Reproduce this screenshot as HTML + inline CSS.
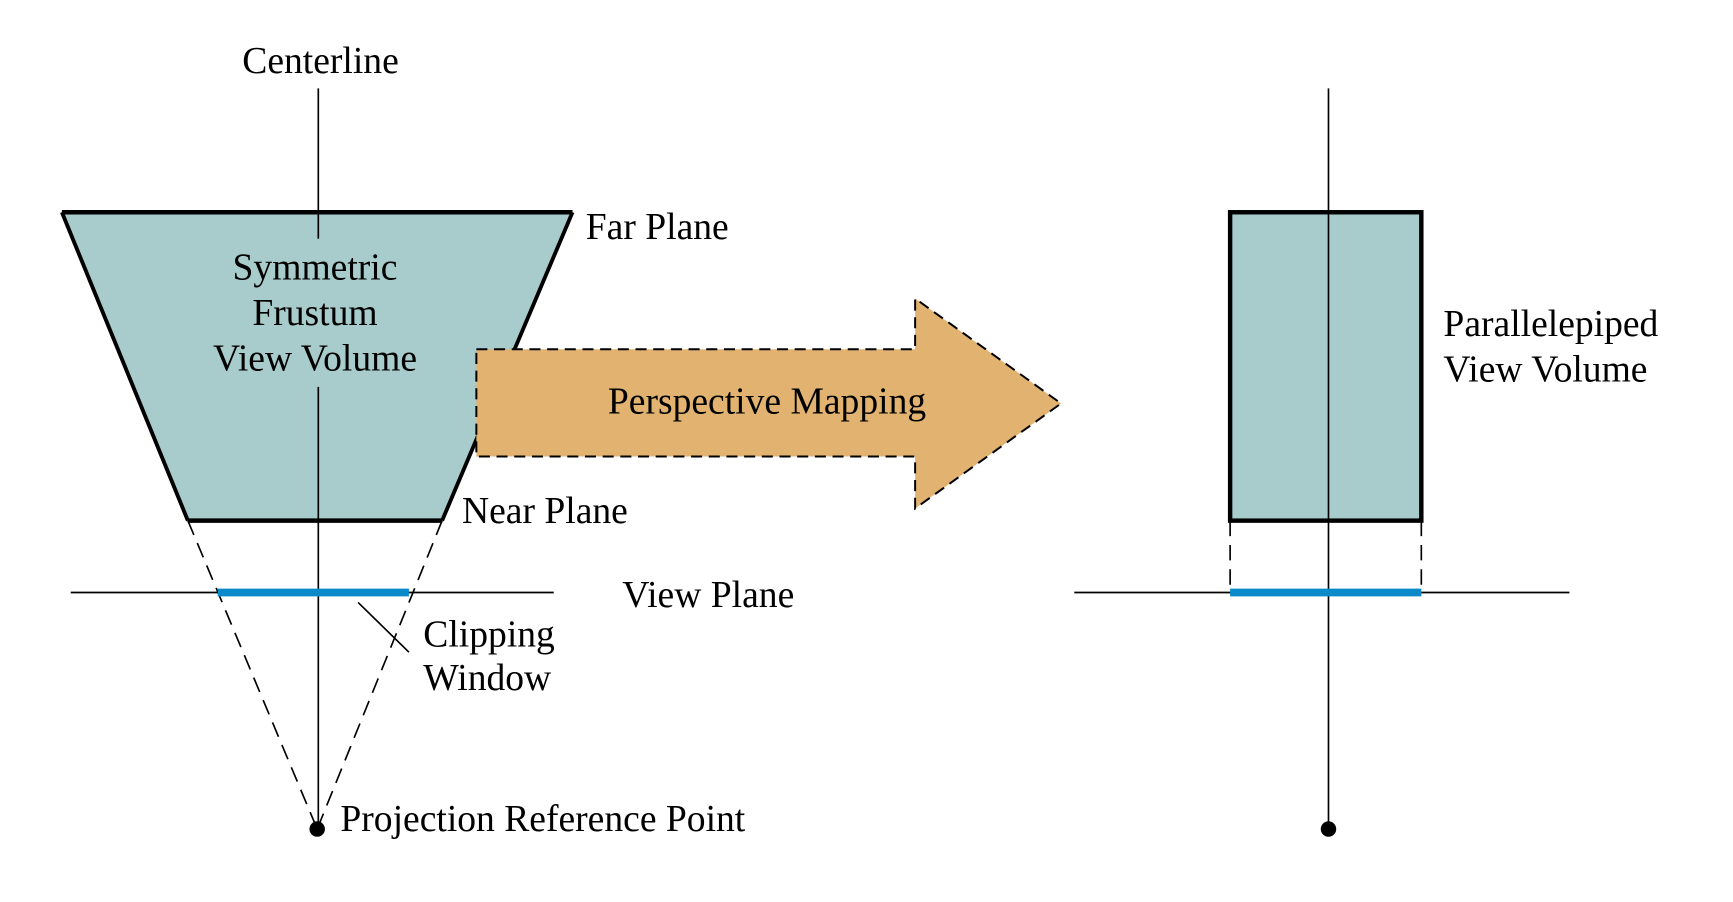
<!DOCTYPE html>
<html><head><style>
html,body{margin:0;padding:0;background:#fff;}
svg{display:block;}
text{font-family:"Liberation Serif",serif;font-size:34px;fill:#000;}
</style></head><body>
<svg width="1733" height="902" viewBox="0 0 1568 816" preserveAspectRatio="none" xmlns="http://www.w3.org/2000/svg">
<rect width="1568" height="816" fill="#fff"/>
<!-- frustum -->
<polygon points="56,192 518,192 400,471 170,471" fill="#a8cbcb" stroke="none"/>
<polyline points="56,192 518,192" stroke="#000" stroke-width="4" fill="none"/>
<line x1="56" y1="192" x2="170" y2="471" stroke="#000" stroke-width="3.5"/>
<line x1="518" y1="192" x2="400" y2="471" stroke="#000" stroke-width="3.5"/>
<line x1="170" y1="471" x2="400" y2="471" stroke="#000" stroke-width="4"/>
<line x1="288" y1="80" x2="288" y2="216" stroke="#000" stroke-width="1.5"/>
<line x1="288" y1="350" x2="288" y2="750" stroke="#000" stroke-width="1.5"/>
<text x="290" y="66" text-anchor="middle">Centerline</text>
<text x="285" y="253" text-anchor="middle">Symmetric</text>
<text x="285" y="294" text-anchor="middle">Frustum</text>
<text x="285" y="335" text-anchor="middle">View Volume</text>
<text x="530" y="216">Far Plane</text>
<text x="418" y="473">Near Plane</text>
<line x1="170" y1="471" x2="287" y2="750" stroke="#000" stroke-width="1.5" stroke-dasharray="14,8"/>
<line x1="400" y1="471" x2="287" y2="750" stroke="#000" stroke-width="1.5" stroke-dasharray="14,8"/>
<line x1="64" y1="536" x2="501" y2="536" stroke="#000" stroke-width="1.5"/>
<line x1="197" y1="536" x2="370" y2="536" stroke="#0a8ac8" stroke-width="7"/>
<line x1="324" y1="545" x2="370" y2="590" stroke="#000" stroke-width="1.5"/>
<text x="383" y="585">Clipping</text>
<text x="383" y="624">Window</text>
<text x="563" y="549">View Plane</text>
<circle cx="287" cy="750" r="7" fill="#000"/>
<text x="308" y="752">Projection Reference Point</text>
<!-- arrow -->
<polygon points="431,316 828,316 828,270 960,365 828,460 828,413 431,413" fill="#e2b370" stroke="#000" stroke-width="1.8" stroke-dasharray="10,6"/>
<text x="694" y="374" text-anchor="middle">Perspective Mapping</text>
<!-- right -->
<rect x="1113" y="192" width="173" height="279" fill="#a8cbcb" stroke="#000" stroke-width="4"/>
<line x1="1202" y1="80" x2="1202" y2="750" stroke="#000" stroke-width="1.5"/>
<line x1="1113" y1="471" x2="1113" y2="536" stroke="#000" stroke-width="1.5" stroke-dasharray="14,8"/>
<line x1="1286" y1="471" x2="1286" y2="536" stroke="#000" stroke-width="1.5" stroke-dasharray="14,8"/>
<line x1="972" y1="536" x2="1420" y2="536" stroke="#000" stroke-width="1.5"/>
<line x1="1113" y1="536" x2="1286" y2="536" stroke="#0a8ac8" stroke-width="7"/>
<circle cx="1202" cy="750" r="7" fill="#000"/>
<text x="1306" y="304">Parallelepiped</text>
<text x="1306" y="345">View Volume</text>
</svg>
</body></html>
